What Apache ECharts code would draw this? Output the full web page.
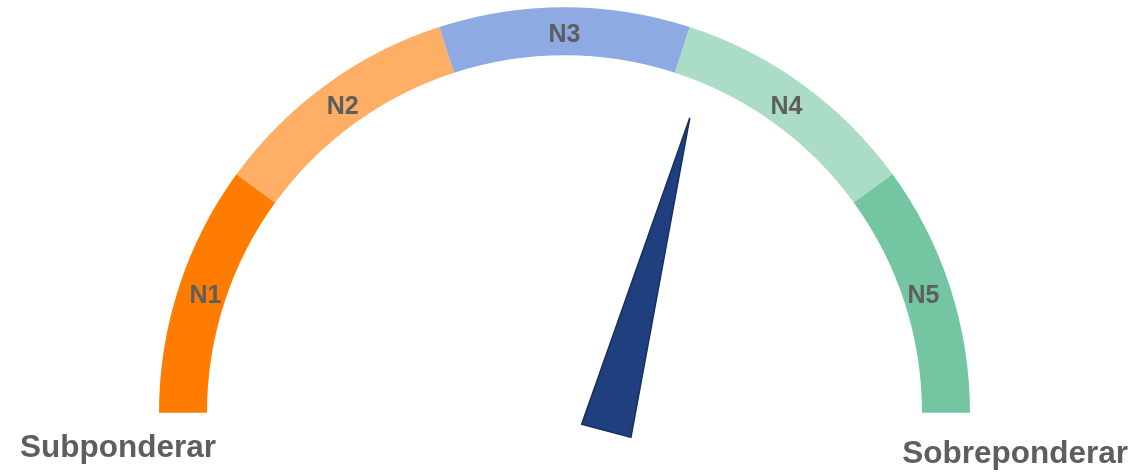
<!DOCTYPE html>
<html>
<head>
<meta charset="utf-8">
<script src="https://cdn.jsdelivr.net/npm/echarts@6/dist/echarts.min.js"></script>
<style>
html,body{margin:0;padding:0;background:#fff;}
#chart{width:1133px;height:476px;}
</style>
</head>
<body>
<div id="chart"></div>
<script>
// Data
const categories = ['N1', 'N2', 'N3', 'N4', 'N5'];
const bandWeights = [1, 1, 1, 1, 1];
const bandColors = ['#FF7C00', '#FFAE66', '#8EAAE2', '#ABDDC6', '#73C6A1'];
const needleValue = [58.3];
const sideLabels = ['Subponderar', 'Sobreponderar'];

const textColor = '#5E5E5E';
const fontFamily = '"Liberation Sans", Arial, sans-serif';

const chart = echarts.init(document.getElementById('chart'), null, {renderer: 'canvas'});

const gaugeCenter = [564.5, 412.7];

const option = {
  animation: false,
  backgroundColor: '#ffffff',
  series: [
    {
      // coloured bands
      type: 'pie',
      center: gaugeCenter,
      radius: [357.5, 405.5],
      startAngle: 180,
      endAngle: 0,
      clockwise: true,
      silent: true,
      padAngle: 0,
      itemStyle: {borderWidth: 0},
      label: {show: false},
      labelLine: {show: false},
      emphasis: {disabled: true},
      data: categories.map((c, i) => ({
        name: c,
        value: bandWeights[i],
        itemStyle: {color: bandColors[i]}
      }))
    },
    {
      // band labels (transparent ring, labels at its middle radius)
      type: 'pie',
      center: gaugeCenter,
      radius: [343.5, 405.5],
      startAngle: 180,
      endAngle: 0,
      clockwise: true,
      silent: true,
      padAngle: 0,
      itemStyle: {color: 'rgba(0,0,0,0)', borderWidth: 0},
      label: {
        show: true,
        position: 'inside',
        color: textColor,
        fontSize: 25,
        fontWeight: 'bold',
        fontFamily: fontFamily,
        formatter: '{b}'
      },
      labelLine: {show: false},
      emphasis: {disabled: true},
      data: categories.map((c, i) => ({name: c, value: bandWeights[i]}))
    },
    {
      type: 'gauge',
      center: [606.3, 430.8],
      radius: 324,
      startAngle: 180,
      endAngle: 0,
      min: 0,
      max: 100,
      axisLine: {show: false},
      axisTick: {show: false},
      splitLine: {show: false},
      axisLabel: {show: false},
      anchor: {show: false},
      title: {show: false},
      detail: {show: false},
      pointer: {
        show: true,
        icon: 'path://M0,100 L50,0 L100,100 Z',
        length: 324,
        width: 51,
        itemStyle: {
          color: '#1F3F7E',
          borderColor: '#15305E',
          borderWidth: 1.5
        }
      },
      data: [{value: needleValue[0]}]
    }
  ],
  graphic: [
    {
      type: 'text',
      x: 20,
      y: 448,
      style: {
        text: sideLabels[0],
        fill: textColor,
        font: 'bold 31.5px ' + fontFamily,
        align: 'left',
        verticalAlign: 'middle'
      }
    },
    {
      type: 'text',
      x: 1128,
      y: 454.5,
      style: {
        text: sideLabels[1],
        fill: textColor,
        font: 'bold 31.5px ' + fontFamily,
        align: 'right',
        verticalAlign: 'middle'
      }
    }
  ]
};

chart.setOption(option);
</script>
</body>
</html>
